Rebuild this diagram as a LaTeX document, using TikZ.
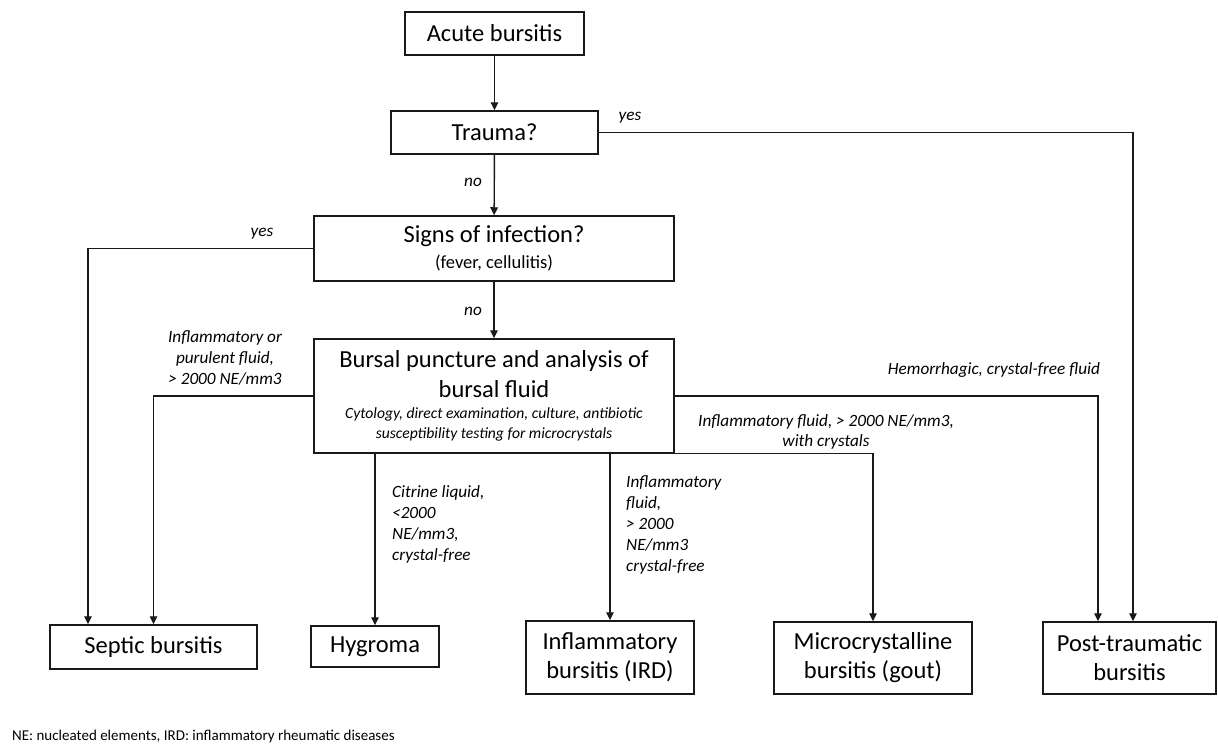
\documentclass[tikz,border=0pt]{standalone}
\usepackage{fontspec}
\setmainfont{Carlito}
\usetikzlibrary{arrows.meta}
\begin{document}
\begin{tikzpicture}[x=1pt,y=-1pt,
  box/.style={draw=black!90, line width=1.5pt, inner sep=0pt, align=center,
    font=\fontsize{24.5}{29}\selectfont},
  lab/.style={inner sep=0pt, font=\fontsize{17.2}{20.8}\selectfont\itshape},
  conn/.style={line width=1.4pt, draw=black!90},
  arr/.style={conn, -{Triangle[length=8pt,width=7.5pt]}}]
\useasboundingbox (0,0) rectangle (1218,744);
\fill[white] (0,0) rectangle (1218,744);

% boxes
\node[box, minimum width=179pt, minimum height=43pt] (acute) at (494.5,33.5) {Acute bursitis};
\node[box, minimum width=207pt, minimum height=43pt] (trauma) at (494.5,132.5) {Trauma?};
\node[box, minimum width=360pt, minimum height=65pt] (signs) at (494,248.5)
  {Signs of infection?\\[-3pt]{\fontsize{18.5}{20}\selectfont (fever, cellulitis)}};
\node[box, minimum width=360pt, minimum height=114pt] (bursal) at (494,396)
  {\rule{0pt}{14pt}Bursal puncture and analysis of\\[1pt]bursal fluid\\[-8pt]
   {\fontsize{15.6}{19}\selectfont\itshape Cytology, direct examination, culture, antibiotic}\\[-9pt]
   {\fontsize{15.6}{19}\selectfont\itshape susceptibility testing for microcrystals}};
\node[box, minimum width=207pt, minimum height=44pt] (septic) at (153.5,647) {Septic bursitis};
\node[box, minimum width=128pt, minimum height=41pt] (hy) at (375,646.5) {Hygroma};
\node[box, minimum width=168pt, minimum height=73pt] (infl) at (610,657.5) {Inflammatory\\bursitis (IRD)};
\node[box, minimum width=198pt, minimum height=72pt] (micro) at (873,658) {Microcrystalline\\bursitis (gout)};
\node[box, minimum width=173pt, minimum height=72pt] (post) at (1129.5,658) {Post-traumatic\\bursitis};

% helper coordinates
\coordinate (postA) at ([xshift=-31.5pt]post.north);
\coordinate (postB) at ([xshift=3.5pt]post.north);
\coordinate (sepA) at ([xshift=-65.5pt]septic.north);

% connectors
\draw[arr] (acute) -- (trauma);
\draw[arr] (trauma) -- (signs);
\draw[arr] (signs) -- (bursal);
\draw[arr] (trauma.east) -| (postB);
\draw[arr] (signs.west) -| (sepA);
\draw[arr] (bursal.west) -| (septic.north);
\draw[arr] (bursal.east) -| (postA);
\draw[arr] (bursal.south -| hy.north) -- (hy.north);
\draw[arr] (bursal.south -| infl.north) -- (infl.north);
\draw[arr] (bursal.south east) -| (micro.north);

% labels
\node[lab] (yes1) at (630,118) {yes};
\node[lab] (no1) at (473,182) {no};
\node[lab] (yes2) at (262,234) {yes};
\node[lab] (no2) at (473,311) {no};
\node[lab, align=center] (lsep) at (225,358) {Inflammatory or\\purulent fluid,\\{}> 2000 NE/mm3};
\node[lab, align=left, anchor=west] (lhy) at (392,524.5) {Citrine liquid,\\{}<2000\\NE/mm3,\\crystal-free};
\node[lab, align=left, anchor=west] (linf) at (626,525) {Inflammatory\\fluid,\\{}> 2000\\NE/mm3\\crystal-free};
\node[lab, align=center] (lmic) at (826,432) {Inflammatory fluid, > 2000 NE/mm3,\\with crystals};
\node[lab] (lhem) at (994,370) {Hemorrhagic, crystal-free fluid};
\node[inner sep=0pt, anchor=west, font=\fontsize{15}{17}\selectfont] (foot) at (12,736)
  {NE: nucleated elements, IRD: inflammatory rheumatic diseases};
\end{tikzpicture}
\end{document}
